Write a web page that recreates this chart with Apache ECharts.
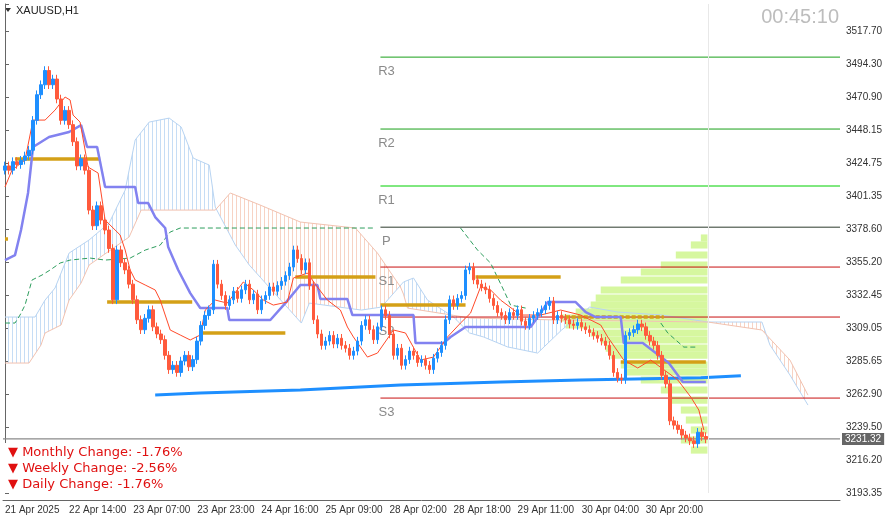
<!DOCTYPE html>
<html><head><meta charset="utf-8">
<script src="https://cdn.jsdelivr.net/npm/echarts@6/dist/echarts.min.js"></script>
<style>html,body{margin:0;padding:0;background:#fff}#c{width:889px;height:523px}</style>
</head><body><div id="c"></div>
<script>
const closes=[3423,3420,3426,3424,3427,3430,3434,3455,3473,3480,
3490,3480,3484,3470,3455,3462,3452,3440,3423,3428,
3420,3392,3381,3395,3385,3378,3365,3329,3364,3355,
3350,3340,3329,3315,3308,3316,3322,3310,3305,3301,
3290,3280,3283,3278,3286,3290,3282,3287,3300,3311,
3318,3322,3354,3340,3332,3325,3329,3335,3330,3336,
3340,3329,3333,3322,3329,3332,3338,3335,3339,3342,
3346,3352,3364,3358,3350,3355,3339,3315,3305,3297,
3300,3304,3298,3302,3297,3295,3290,3293,3300,3311,
3315,3308,3301,3310,3322,3318,3305,3290,3295,3283,
3287,3293,3290,3285,3287,3283,3280,3288,3292,3297,
3315,3329,3325,3330,3332,3350,3352,3343,3340,3338,
3336,3330,3325,3320,3318,3315,3320,3318,3322,3314,
3311,3316,3318,3320,3322,3325,3328,3315,3318,3316,
3315,3312,3311,3313,3310,3308,3306,3304,3302,3300,
3297,3290,3278,3274,3273,3304,3306,3308,3312,3310,
3304,3300,3297,3290,3276,3270,3244,3241,3238,3234,
3232,3230,3228,3236,3233,3231.32];
const firstOpen=3420;
const N=209;
const tickLabels=['21 Apr 2025','22 Apr 14:00','23 Apr 07:00','23 Apr 23:00','24 Apr 16:00','25 Apr 09:00','28 Apr 02:00','28 Apr 18:00','29 Apr 11:00','30 Apr 04:00','30 Apr 20:00','','',''];
const yLabels=[3193.35,3216.20,3239.50,3262.90,3285.65,3309.05,3332.45,3355.20,3378.60,3401.35,3424.75,3448.15,3470.90,3494.30,3517.70];
const spanA=[[0,3316.9],[7.5,3316.9],[10,3328.8],[12.5,3337.3],[16,3361.8],[21,3371],[26,3382.9],[30,3406],[32.5,3441.2],[36,3453.8],[41,3456.6],[44,3450.3],[47,3428.5],[51,3423.6],[52.5,3394.1],[57.5,3367.5],[61,3353.4],[74,3312.7],[76,3326.7],[89,3321.8],[94,3323.9],[99.5,3341.5],[102,3344.3],[105.5,3328.8],[112,3316.9],[116,3305.7],[119.5,3302.9],[125.5,3295.9],[133,3291.6],[139,3307.8],[146,3323.9],[153,3320.4],[164,3318.3],[175.5,3313.4],[189,3313.4],[191,3297.3],[196,3276.2],[200.5,3255.1]];
const spanB=[[0,3284.6],[6,3284.6],[9,3297.3],[10,3305.7],[14,3311.3],[16,3328.8],[19,3340.8],[21,3353.4],[31,3373.1],[34,3392],[52.5,3392],[56.25,3404],[63.75,3395.5],[73.75,3383.6],[87.5,3379.4],[93,3361.8],[98.75,3338],[99.5,3333],[100.5,3323.2],[116.25,3316.2],[138.75,3314.8],[175.5,3313.4],[189,3307.8],[196,3286.7],[200.5,3262.1]];
const cloudParts=[[0,52.5,'#c6ddf5'],[52.5,99.5,'#f7d3c4'],[99.5,175.5,'#c6ddf5'],[175.5,200.5,'#f7d3c4']];
const kijun=[[0,3356.9],[2.5,3360.4],[4,3378],[5.75,3404],[7,3436.3],[11,3443.3],[16,3446.8],[19,3451.7],[20.5,3436.3],[23,3436.3],[25,3408.2],[32.5,3408.2],[33.25,3396.9],[35.75,3396.9],[37.5,3387.1],[40,3379.4],[40.75,3366],[43.25,3349.9],[46.25,3333.7],[48.75,3323.2],[55.5,3323.2],[56,3314.8],[66.25,3314.8],[70,3326.7],[73.75,3339.4],[78,3339.4],[78.75,3329.5],[85.5,3329.5],[86.75,3318.3],[102,3318.3],[102.5,3298.6],[109.5,3298.6],[111.25,3302.9],[115,3309.9],[121.25,3309.9],[131.25,3309.9],[133.75,3319.7],[135.5,3327.4],[142.5,3327.4],[145,3320.4],[147.5,3316.9],[153.75,3316.9],[154.5,3298.6],[159.25,3298.6],[162.5,3291.6],[165.75,3284.6],[169.25,3271.3],[175,3271.3]];
const maLine=[[0,3408.2],[1.75,3420.1],[5,3427.1],[7,3455.2],[10,3455.2],[12.5,3462.2],[15,3471.4],[16.25,3469.3],[17,3458.7],[18.75,3453.8],[20.75,3422.2],[23.25,3418],[25,3385],[28.75,3374.5],[30,3364],[31.25,3349.9],[32.5,3342.9],[35,3339.4],[37.5,3335.9],[38.75,3328.8],[41.25,3307.8],[43.75,3304.3],[46.25,3300.8],[48.75,3304.3],[50,3321.8],[52.5,3328.8],[55.5,3326.7],[59.5,3341.5],[62,3335.9],[64.5,3328.8],[67,3325.3],[70.5,3327.4],[72,3344.3],[75.5,3347.8],[78,3338],[80.5,3328.8],[83.75,3321.8],[85.5,3309.9],[87,3302.9],[90.5,3288.8],[93,3291.6],[97,3307.8],[100,3305.7],[103.75,3286.7],[107,3288.8],[110.5,3302.9],[113.75,3312.7],[116.25,3319.7],[118.75,3338],[121.25,3335.9],[123.75,3328.8],[128.75,3318.3],[133.75,3318.3],[138.75,3321.8],[143.75,3318.3],[148.75,3311.3],[150.5,3302.9],[154.5,3286.7],[158,3281.1],[161.25,3286.7],[168,3272.7],[171.25,3260.7],[173.25,3251.6],[174.5,3237.6]];
const chikou=[[0,3312.7],[2.5,3312.7],[3.75,3318.3],[5,3325.3],[6.75,3342.9],[9.25,3346.4],[11.25,3349.9],[13.75,3354.8],[16.25,3356.9],[21.25,3358.3],[25,3356.9],[31.25,3358.3],[35,3363.9],[38.75,3367.4],[41.25,3376.6],[43.75,3379.4],[92.5,3379.4],[null,null],[113.75,3379.4],[118,3363.9],[121.25,3354.8],[124.5,3335.9],[126.25,3325.3],[130,3323.2],[null,null],[163.75,3312.7],[165.5,3305.7],[169.5,3295.8],[173,3295.8]];
const orangeSegs=[[0,0.75,3371.7],[2.5,23.75,3427.8],[25.5,46.75,3327.4],[48.75,70,3305.7],[72.5,92.5,3345],[93.75,115,3325.3],[117.5,138.75,3345],[153.75,175,3285.3]];
const orangeDashed=[[140,164.5,3316.9]];
const blueLine=[[37.5,3262.1],[48.75,3263.5],[73.75,3265.6],[98.75,3269.2],[123.75,3271.3],[143.75,3272.7],[173.75,3274.2],[183.75,3275.6]];
const pivots=[['R3',3499.4,'#1aa01a'],['R2',3448.9,'#1aa01a'],['R1',3408.9,'#00d000'],['P',3380.0,'#2b3a2b'],['S1',3352.0,'#c81010'],['S2',3316.9,'#c81010'],['S3',3260.0,'#c81010']];
const vpPrices=[3372.4,3367.5,3360.5,3353.4,3348.5,3342.9,3335.9,3330.2,3325.3,3320.4,3316.2,3311.3,3305.7,3300.8,3295.1,3290.2,3283.2,3278.3,3272.7,3265.7,3258.6,3251.6,3244.6,3237.6,3230.6,3223.5];
const vpLeft=[173.75,171.25,167.5,163.75,158.75,153.75,148.75,147.5,146.25,142.5,138.75,140,146.25,148.75,150,151.25,153.75,155,158.75,163.75,166.25,168.75,170,171.25,168.75,171.25];
const changes=['Monthly Change: -1.76%','Weekly Change: -2.56%','Daily Change: -1.76%'];
const lastPrice=3231.32, pivotStart=93.75, lastBar=175.5;

const cats=[];for(let i=0;i<N;i++)cats.push(String(i));
const candles=closes.map((c,i)=>{const o=i?closes[i-1]:firstOpen;return [o,c,Math.min(o,c)-3,Math.max(o,c)+3];});
function hatch(col){const cv=document.createElement('canvas');cv.width=4;cv.height=4;const g=cv.getContext('2d');g.fillStyle=col;g.fillRect(0,0,1,4);return cv;}
function between(arr,a,b){return arr.filter(p=>p[0]>=a&&p[0]<=b);}
const yMin=3193.35, yInt=(3517.70-3193.35)/14, yMax=3193.35+yInt*14+19;
const segSeries=(segs,dashed)=>segs.map(s=>({type:'line',xAxisIndex:1,data:[[s[0],s[2]],[s[1],s[2]]],symbol:'none',silent:true,z:4,lineStyle:{color:'#d4a017',width:3.5,type:dashed?[4,2]:'solid'}}));
const pivotSeries=pivots.map(p=>({type:'line',xAxisIndex:1,data:[[pivotStart,p[1]],[N-0.5,p[1]]],symbol:'none',silent:true,z:2,lineStyle:{color:p[2],width:1},
  markPoint:{symbol:'rect',symbolSize:1,itemStyle:{color:'transparent'},data:[{coord:[pivotStart,p[1]],label:{show:true,formatter:p[0],color:'#8a8a8a',fontSize:13,position:'bottom',offset:[6,2],fontFamily:'Liberation Sans'}}]}}));
const option={animation:false,backgroundColor:'#fff',
 grid:{left:3,right:49,top:4,bottom:30},
 xAxis:[{type:'category',data:cats,offset:7,boundaryGap:true,axisLine:{lineStyle:{color:'#666'}},axisTick:{interval:15,length:4,lineStyle:{color:'#666'}},
   axisLabel:{interval:15,align:'left',margin:5,fontSize:10,color:'#333',fontFamily:'Liberation Sans',formatter:(v,i)=>tickLabels[Math.round(i/16)]||''},splitLine:{show:false}},
  {type:'value',min:-0.5,max:N-0.5,show:false}],
 yAxis:{type:'value',position:'right',min:yMin,max:yMax,interval:yInt,axisLine:{show:true,lineStyle:{color:'#666'}},axisTick:{show:true,length:4,lineStyle:{color:'#666'}},
   axisLabel:{fontSize:10,color:'#333',margin:6,fontFamily:'Liberation Sans',formatter:v=>{let b=yLabels[0];yLabels.forEach(l=>{if(Math.abs(l-v)<Math.abs(b-v))b=l;});return v>3520?'':b.toFixed(2);}},splitLine:{show:false}},
 series:[
  {type:'custom',xAxisIndex:1,data:[[0]],silent:true,z:1,renderItem:(params,api)=>{
    const ch=cloudParts.map(cp=>{const top=between(spanA,cp[0],cp[1]).map(p=>api.coord(p));const bot=between(spanB,cp[0],cp[1]).reverse().map(p=>api.coord(p));
      return {type:'polygon',shape:{points:top.concat(bot)},style:{fill:{image:hatch(cp[2]),repeat:'repeat'},stroke:null}};});
    return {type:'group',children:ch};}},
  {type:'line',xAxisIndex:1,data:spanA,symbol:'none',silent:true,z:2,lineStyle:{color:'#b8d4f2',width:1}},
  {type:'line',xAxisIndex:1,data:spanB,symbol:'none',silent:true,z:2,lineStyle:{color:'#f2c2b0',width:1}},
  {type:'custom',xAxisIndex:1,data:vpPrices.map((p,i)=>[vpLeft[i],p]),silent:true,z:2,renderItem:(params,api)=>{
    const a=api.coord([api.value(0),api.value(1)+2.5]);const b=api.coord([lastBar-0.1,api.value(1)-2.5]);
    return {type:'rect',shape:{x:a[0],y:a[1],width:b[0]-a[0],height:b[1]-a[1]},style:{fill:'#d6f79f'}};}},
  ...pivotSeries,
  {type:'line',xAxisIndex:1,data:[[-0.5,lastPrice],[N-0.5,lastPrice]],symbol:'none',silent:true,z:2,lineStyle:{color:'#8a8a8a',width:1.2},
    markLine:{silent:true,symbol:'none',lineStyle:{color:'#e8e8e8',width:1,type:'solid'},label:{show:false},data:[{xAxis:lastBar}]}},
  {type:'line',xAxisIndex:1,data:chikou,symbol:'none',silent:true,connectNulls:false,z:3,lineStyle:{color:'#2e9e5e',width:1,type:[5,3]}},
  {type:'line',xAxisIndex:1,data:blueLine,symbol:'none',silent:true,z:4,lineStyle:{color:'#1e8fff',width:3}},
  ...segSeries(orangeSegs,false),...segSeries(orangeDashed,true),
  {type:'line',xAxisIndex:1,data:kijun,symbol:'none',silent:true,z:5,lineStyle:{color:'#8282f0',width:2.5}},
  {type:'line',xAxisIndex:1,data:maLine,symbol:'none',silent:true,z:6,lineStyle:{color:'#ff4a2a',width:1}},
  {type:'candlestick',xAxisIndex:0,data:candles,barWidth:3,z:7,itemStyle:{color:'#1e8fff',borderColor:'#1e8fff',color0:'#ff5a3c',borderColor0:'#ff5a3c',borderWidth:1},
   markLine:{silent:true,symbol:'none',data:[{yAxis:lastPrice}],lineStyle:{color:'transparent'},label:{show:true,position:'end',formatter:lastPrice.toFixed(2),backgroundColor:'#666',color:'#fff',padding:[1,3],fontSize:10,distance:2,fontFamily:'Liberation Sans'}}}
 ],
 graphic:[
  {type:'polygon',shape:{points:[[5,8],[11,8],[8,12]]},style:{fill:'#333'}},
  {type:'text',left:16,top:5,style:{text:'XAUUSD,H1',fontSize:11,fill:'#222',fontFamily:'Liberation Sans'}},
  {type:'text',right:50,top:7,style:{text:'00:45:10',fontSize:20,fill:'#bdbdbd',fontFamily:'Liberation Sans'}},
  {type:'rect',shape:{x:3,y:443,width:188,height:50},style:{fill:'#fff'},z:50},
  ...changes.map((t,i)=>({type:'text',left:8,top:446+i*16,z:51,style:{text:'▼ '+t,fontSize:13,fill:'#e01010',fontFamily:'DejaVu Sans'}}))
 ]};
echarts.init(document.getElementById('c')).setOption(option);
</script></body></html>
